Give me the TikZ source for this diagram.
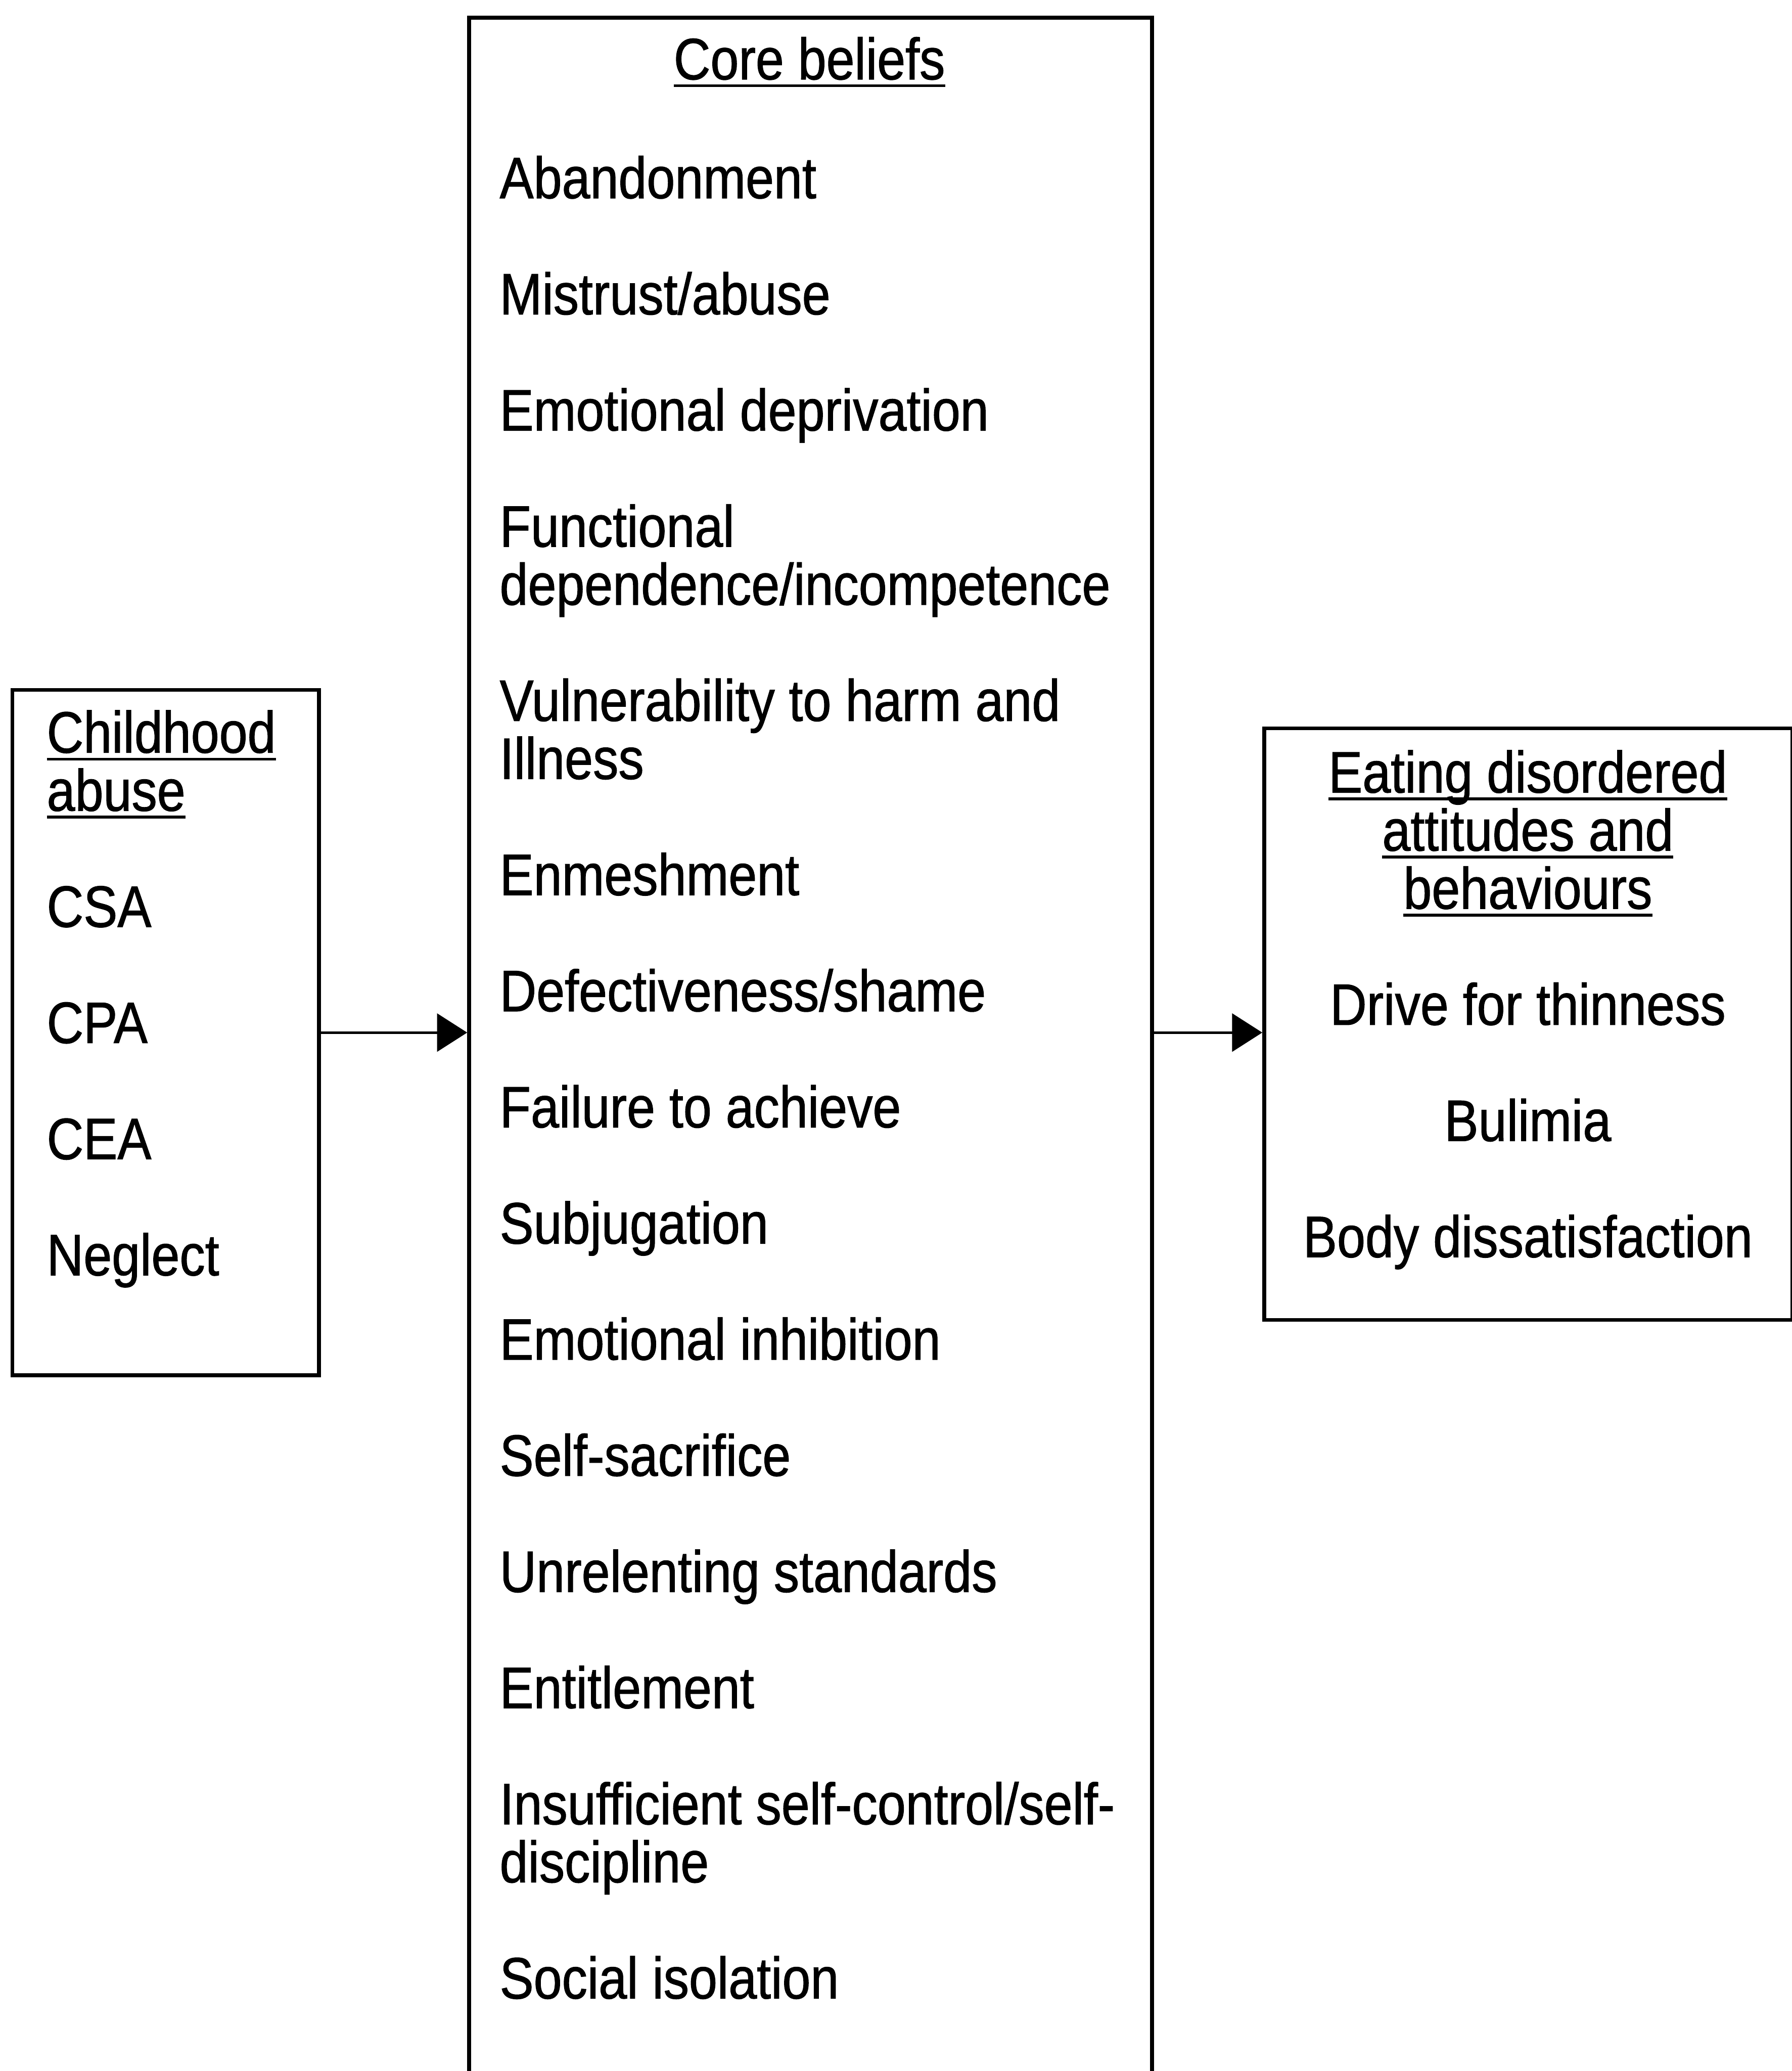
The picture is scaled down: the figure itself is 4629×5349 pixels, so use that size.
\documentclass[tikz,border=0pt]{standalone}
\usepackage{fontspec}
\setmainfont{Liberation Sans}[FakeStretch=0.87,FakeBold=1]
\usetikzlibrary{arrows.meta}
\newcommand\ulx[1]{\setbox0\hbox{#1}\rlap{\rule[-2pt]{\wd0}{0.7pt}}\box0}
\newcommand\leftcol[1]{\vtop{\baselineskip=15pt\lineskiplimit=-20pt\lineskip=0pt\halign{##\hfil\cr#1\crcr}}}
\newcommand\centcol[1]{\vtop{\baselineskip=15pt\lineskiplimit=-20pt\lineskip=0pt\halign{\hfil##\hfil\cr#1\crcr}}}
\newcommand\gap{\noalign{\vskip15pt}}
\begin{document}
\begin{tikzpicture}[x=0.1pt,y=-0.1pt,
  boxst/.style={draw,line width=1pt,rectangle,inner sep=0pt,anchor=north west},
  txt/.style={inner sep=0pt,font=\fontsize{15.1}{15}\selectfont},
  arr/.style={line width=0.7pt,-{Triangle[length=7.8pt,width=9.8pt]}}]
\useasboundingbox (0,0) rectangle (4629,5349);
% boxes
\node[boxst,minimum width=79.2pt,minimum height=177pt] (lbox) at (27,1777) {};
\node[boxst,minimum width=176.4pt,minimum height=546pt] (core) at (1207,41) {};
\node[boxst,minimum width=136.4pt,minimum height=152.8pt] (rbox) at (3261,1876) {};
% texts
\node[txt,anchor=base west] (ltext) at (119,1944) {\leftcol{\ulx{Childhood}\cr \ulx{abuse}\cr\gap CSA\cr\gap CPA\cr\gap CEA\cr\gap Neglect}};
\node[txt,anchor=base] (cbtitle) at (2091,205) {\ulx{Core beliefs}};
\node[txt,anchor=base west] (cbitems) at (1289,512) {\leftcol{Abandonment\cr\gap Mistrust/abuse\cr\gap Emotional deprivation\cr\gap Functional\cr dependence/incompetence\cr\gap Vulnerability to harm and\cr Illness\cr\gap Enmeshment\cr\gap Defectiveness/shame\cr\gap Failure to achieve\cr\gap Subjugation\cr\gap Emotional inhibition\cr\gap Self-sacrifice\cr\gap Unrelenting standards\cr\gap Entitlement\cr\gap Insufficient self-control/self-\cr discipline\cr\gap Social isolation}};
\node[txt,anchor=base] (rtext) at (3947,2047) {\centcol{\ulx{Eating disordered}\cr \ulx{attitudes and}\cr \ulx{behaviours}\cr\gap Drive for thinness\cr\gap Bulimia\cr\gap Body dissatisfaction}};
% arrows
\draw[arr] (lbox.east) -- (lbox.east -| core.west);
\draw[arr] (core.east |- lbox.east) -- (lbox.east -| rbox.west);
\end{tikzpicture}
\end{document}
